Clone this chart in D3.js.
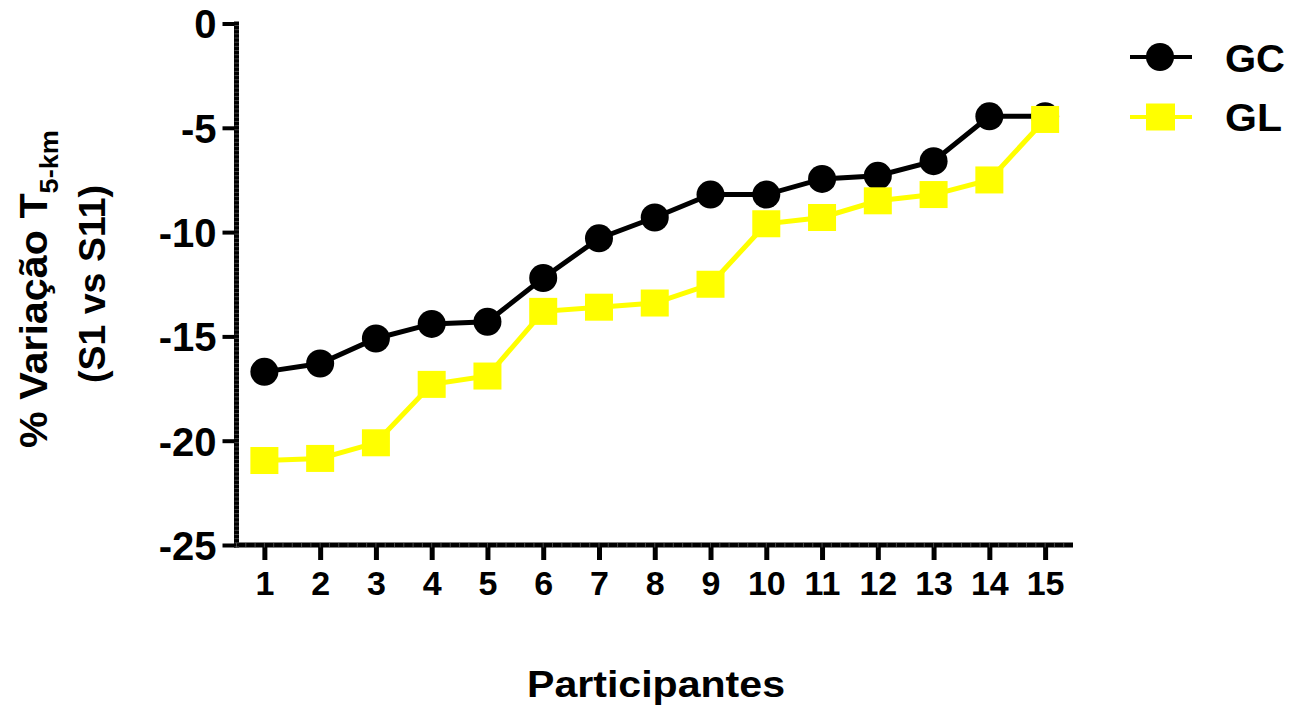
<!DOCTYPE html>
<html><head><meta charset="utf-8">
<script src="https://cdn.jsdelivr.net/npm/d3@7"></script>
<style>
body{margin:0;background:#fff;}
svg{display:block;font-family:"Liberation Sans",Arial,sans-serif;font-weight:bold;}
</style></head>
<body><svg id="c" width="1293" height="707"></svg>
<script>
const participants = [1,2,3,4,5,6,7,8,9,10,11,12,13,14,15];
const gcValues = [-16.7,-16.3,-15.1,-14.4,-14.3,-12.2,-10.3,-9.3,-8.2,-8.2,-7.45,-7.3,-6.6,-4.45,-4.45];
const glValues = [-20.95,-20.85,-20.1,-17.3,-16.9,-13.8,-13.6,-13.4,-12.5,-9.6,-9.3,-8.5,-8.2,-7.5,-4.6];
const yTicks = [0,-5,-10,-15,-20,-25];
const seriesNames = ["GC","GL"];

const svg = d3.select("#c");
const x = d3.scaleLinear().domain([0.5,15.5]).range([236.5,1073]);
const y = d3.scaleLinear().domain([0,-25]).range([23.5,545]);
const fmt = d => String(d);

// axes
const yAxis = svg.append("g").attr("transform","translate(236.5,0)")
  .call(d3.axisLeft(y).tickValues(yTicks).tickSize(14).tickPadding(6).tickFormat(fmt));
yAxis.select(".domain").remove();
yAxis.selectAll(".tick line").attr("stroke","#000").attr("stroke-width",4);
yAxis.selectAll(".tick text").attr("font-size",40).attr("fill","#000").attr("font-family","'Liberation Sans',Arial,sans-serif").attr("font-weight","bold").attr("dy","0.36em");

const xAxis = svg.append("g").attr("transform","translate(0,545)")
  .call(d3.axisBottom(x).tickValues(participants).tickSize(15).tickPadding(11).tickFormat(fmt));
xAxis.select(".domain").remove();
xAxis.selectAll(".tick line").attr("stroke","#000").attr("stroke-width",5);
xAxis.selectAll(".tick text").attr("font-size",34).attr("fill","#000").attr("font-family","'Liberation Sans',Arial,sans-serif").attr("font-weight","bold");

// axis lines (with fine minor hatching)
svg.append("line").attr("x1",236.5).attr("x2",236.5).attr("y1",21.5).attr("y2",547.5)
  .attr("stroke","#000").attr("stroke-width",5);
svg.append("line").attr("x1",234).attr("x2",1073).attr("y1",545).attr("y2",545)
  .attr("stroke","#000").attr("stroke-width",5);
const yMinor = d3.range(0,-25.01,-0.2);
svg.append("g").selectAll("line").data(yMinor).join("line")
  .attr("x1",234.5).attr("x2",239).attr("y1",d=>y(d)+2).attr("y2",d=>y(d)+2)
  .attr("stroke","#777").attr("stroke-width",0.6);
const xMinor = d3.range(0.5,15.5,1/6);
svg.append("g").selectAll("line").data(xMinor).join("line")
  .attr("x1",d=>x(d)).attr("x2",d=>x(d)).attr("y1",543).attr("y2",547.5)
  .attr("stroke","#777").attr("stroke-width",0.6);

// series
const line = d3.line().x((d,i)=>x(participants[i])).y(d=>y(d));
svg.append("path").datum(gcValues).attr("d",line).attr("fill","none").attr("stroke","#000").attr("stroke-width",5);
svg.append("g").selectAll("circle").data(gcValues).join("circle")
  .attr("cx",(d,i)=>x(participants[i])).attr("cy",d=>y(d)).attr("r",14).attr("fill","#000");
svg.append("path").datum(glValues).attr("d",line).attr("fill","none").attr("stroke","#FFFF00").attr("stroke-width",5);
svg.append("g").selectAll("rect").data(glValues).join("rect")
  .attr("x",(d,i)=>x(participants[i])-14).attr("y",d=>y(d)-13.5).attr("width",28).attr("height",27).attr("fill","#FFFF00");

// legend
const lg = svg.append("g");
lg.append("line").attr("x1",1130).attr("x2",1192).attr("y1",57).attr("y2",57).attr("stroke","#000").attr("stroke-width",4);
lg.append("circle").attr("cx",1160).attr("cy",57).attr("r",14).attr("fill","#000");
lg.append("line").attr("x1",1130).attr("x2",1192).attr("y1",117).attr("y2",117).attr("stroke","#FFFF00").attr("stroke-width",4);
lg.append("rect").attr("x",1146).attr("y",103.5).attr("width",29).attr("height",27).attr("fill","#FFFF00");
lg.append("text").attr("x",1225).attr("y",71.5).attr("font-size",39).attr("textLength",60).attr("lengthAdjust","spacingAndGlyphs").text(seriesNames[0]);
lg.append("text").attr("x",1225).attr("y",131).attr("font-size",39).attr("textLength",57).attr("lengthAdjust","spacingAndGlyphs").text(seriesNames[1]);

// x title
svg.append("text").attr("x",656).attr("y",697).attr("text-anchor","middle").attr("font-size",36)
  .attr("textLength",258).attr("lengthAdjust","spacingAndGlyphs").text("Participantes");

// y title
const t1 = svg.append("text").attr("transform","translate(47,289) rotate(-90)").attr("text-anchor","middle").attr("font-size",38)
  .attr("textLength",318).attr("lengthAdjust","spacingAndGlyphs");
t1.append("tspan").text("% Variação T");
t1.append("tspan").attr("font-size",25).attr("dy",11).text("5-km");
const t2 = svg.append("text").attr("transform","translate(105,284) rotate(-90)").attr("text-anchor","middle").attr("font-size",37)
  .attr("textLength",198).attr("lengthAdjust","spacingAndGlyphs");
t2.append("tspan").text("(S1 vs S11)");
</script></body></html>
